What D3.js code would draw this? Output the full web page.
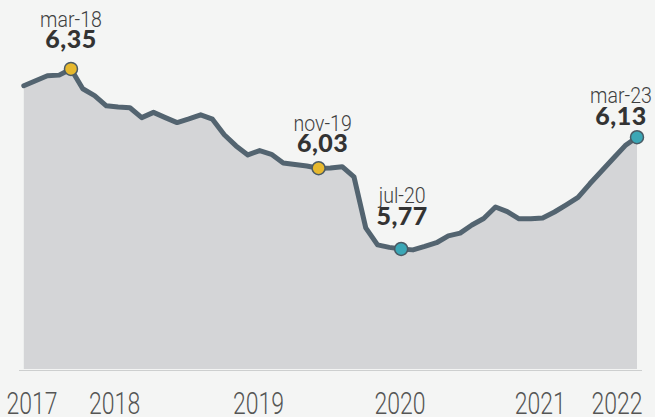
<!DOCTYPE html>
<html>
<head>
<meta charset="utf-8">
<script src="https://cdn.jsdelivr.net/npm/d3@7"></script>
<style>
  html, body { margin: 0; padding: 0; background: #f4f5f4; }
  svg { display: block; }
  .name { font-family: Roboto, "DejaVu Sans Condensed", sans-serif; font-weight: 300; fill: #3f3f3f; }
  .val { font-family: Lato, "DejaVu Sans", sans-serif; font-weight: 900; fill: #333; }
  .year { font-family: Roboto, "DejaVu Sans Condensed", sans-serif; font-weight: 300; fill: #555; }
</style>
</head>
<body>
<div id="chart"></div>
<script>
// monthly readings, one per point along the x axis
var values = [
  6.296, 6.312, 6.328, 6.330, 6.350, 6.286, 6.264, 6.231, 6.227, 6.225,
  6.193, 6.210, 6.193, 6.177, 6.189, 6.202, 6.188, 6.138, 6.102, 6.073,
  6.087, 6.075, 6.047, 6.042, 6.037, 6.030, 6.031, 6.035, 6.002, 5.838,
  5.783, 5.775, 5.770, 5.767, 5.778, 5.790, 5.812, 5.821, 5.847, 5.868,
  5.905, 5.890, 5.867, 5.867, 5.870, 5.889, 5.912, 5.936, 5.980, 6.021,
  6.062, 6.103, 6.130
];

// year labels and the point index they sit under
var yearLabels = ['2017', '2018', '2019', '2020', '2021', '2022'];
var yearIndex  = [0.7, 7.7, 19.9, 31.9, 43.8, 50.3];

// highlighted points
var noteIndex  = [4, 25, 32, 52];
var noteNames  = ['mar-18', 'nov-19', 'jul-20', 'mar-23'];
var noteValues = ['6,35', '6,03', '5,77', '6,13'];
var noteColors = ['#e6b82e', '#e6b82e', '#3ba7b6', '#3ba7b6'];

var width = 655, height = 417;
// label placement relative to the dot (layout, not data)
var noteLayout = [
  {dx: 0,   nameDy: -42, valDy: -21},
  {dx: 4,   nameDy: -37, valDy: -16},
  {dx: 1,   nameDy: -46, valDy: -24},
  {dx: -16, nameDy: -34, valDy: -12}
];

var svg = d3.select('#chart').append('svg')
    .attr('width', width)
    .attr('height', height);

var x = d3.scaleLinear()
    .domain([0, values.length - 1])
    .range([23.8, 637]);

var y = d3.scaleLinear()
    .domain([5.38, 6.40])
    .range([370, 53.4]);

// grey area under the line
var area = d3.area()
    .x(function (d, i) { return x(i); })
    .y0(y(5.38) - 1)
    .y1(function (d) { return y(d); });

svg.append('path')
    .datum(values)
    .attr('d', area)
    .attr('fill', '#d4d5d7');

// baseline
svg.append('line')
    .attr('x1', 19).attr('x2', 642)
    .attr('y1', y(5.38) + 0.5).attr('y2', y(5.38) + 0.5)
    .attr('stroke', '#cdcfcf')
    .attr('stroke-width', 1);

// the line itself
var line = d3.line()
    .x(function (d, i) { return x(i); })
    .y(function (d) { return y(d); });

svg.append('path')
    .datum(values)
    .attr('d', line)
    .attr('fill', 'none')
    .attr('stroke', '#536470')
    .attr('stroke-width', 5)
    .attr('stroke-linejoin', 'round')
    .attr('stroke-linecap', 'round');

// dots + labels
var notes = svg.append('g').selectAll('g')
    .data(noteIndex)
    .join('g')
    .attr('transform', function (d) { return 'translate(' + x(d) + ',' + y(values[d]) + ')'; });

notes.append('circle')
    .attr('r', 6.5)
    .attr('fill', function (d, i) { return noteColors[i]; })
    .attr('stroke', '#4a5a64')
    .attr('stroke-width', 1.5);

// names are squeezed to look like the condensed face of the original
notes.append('text')
    .attr('class', 'name')
    .attr('text-anchor', 'middle')
    .attr('font-size', 22)
    .attr('transform', function (d, i) {
        return 'translate(' + noteLayout[i].dx + ',' + noteLayout[i].nameDy + ') scale(0.89,1)';
    })
    .text(function (d, i) { return noteNames[i]; });

notes.append('text')
    .attr('class', 'val')
    .attr('text-anchor', 'middle')
    .attr('font-size', 25)
    .attr('letter-spacing', 0.5)
    .attr('x', function (d, i) { return noteLayout[i].dx; })
    .attr('y', function (d, i) { return noteLayout[i].valDy; })
    .text(function (d, i) { return noteValues[i]; });

// year axis labels
svg.append('g').selectAll('text')
    .data(yearLabels)
    .join('text')
    .attr('class', 'year')
    .attr('text-anchor', 'middle')
    .attr('font-size', 32)
    .attr('transform', function (d, i) {
        return 'translate(' + x(yearIndex[i]) + ',414) scale(0.72,1)';
    })
    .text(function (d) { return d; });
</script>
</body>
</html>
